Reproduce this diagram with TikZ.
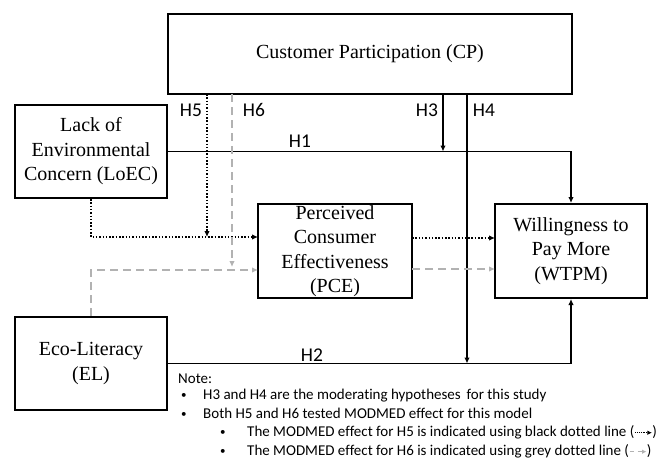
\documentclass[tikz,border=0pt]{standalone}
\usepackage{fontspec}
\setmainfont{Liberation Serif}
\newfontfamily\notefont[Ligatures=NoCommon]{Carlito}
\usetikzlibrary{arrows.meta}
\begin{document}
\begin{tikzpicture}[x=1pt,y=-1pt,
 box/.style={draw, line width=2pt, inner sep=0pt, align=center, font=\fontsize{20}{24.5}\selectfont},
 conn/.style={line width=1.6pt, -{Latex[length=6pt,width=5.5pt]}},
 dotconn/.style={conn, dash pattern=on 1.5pt off 1.8pt},
 greyconn/.style={conn, draw=gray!60, dash pattern=on 8pt off 5pt},
 hlabel/.style={inner sep=0pt, font=\notefont\fontsize{19.5}{22}\selectfont},
 note/.style={anchor=base west, inner sep=0pt, font=\notefont\fontsize{15}{17}\selectfont},
 bul/.style={anchor=base west, inner sep=0pt, font=\notefont\fontsize{11}{13}\selectfont}]
\useasboundingbox (0,0) rectangle (671,458);
% boxes
\node[box, minimum width=404pt, minimum height=80pt] (cp) at (370,54) {Customer Participation (CP)};
\node[box, minimum width=152pt, minimum height=93pt] (loec) at (91,151.5) {Lack of\\Environmental\\Concern (LoEC)};
\node[box, minimum width=154pt, minimum height=94pt] (pce) at (335,251) {Perceived\\Consumer\\Effectiveness\\(PCE)};
\node[box, minimum width=152pt, minimum height=94pt] (wtpm) at (571,251) {Willingness to\\Pay More\\(WTPM)};
\node[box, minimum width=152pt, minimum height=93pt] (el) at (91,363.5) {Eco-Literacy\\(EL)};
% coordinates
\coordinate (h3t) at (443,94);
\coordinate (h3b) at (443,151.5);
\coordinate (h4t) at (467,94);
\coordinate (h4b) at (467,363.5);
\coordinate (h5t) at (207,94);
\coordinate (h5b) at (207,237);
\coordinate (h6t) at (232,94);
\coordinate (h6b) at (232,267);
\coordinate (pceD) at (258,237);
\coordinate (pceG) at (258,270);
\coordinate (pceDo) at (412,238);
\coordinate (wtpmD) at (495,238);
\coordinate (pceGo) at (412,269);
\coordinate (wtpmG) at (495,269);
% connectors
\draw[conn] (loec.east) -| (wtpm.north);
\draw[conn] (el.east) -| (wtpm.south);
\draw[conn] (h3t) -- (h3b);
\draw[conn] (h4t) -- (h4b);
\draw[dotconn] (loec.south) |- (pceD);
\draw[dotconn] (h5t) -- (h5b);
\draw[dotconn] (pceDo) -- (wtpmD);
\draw[greyconn] (el.north) |- (pceG);
\draw[greyconn] (h6t) -- (h6b);
\draw[greyconn] (pceGo) -- (wtpmG);
% labels
\node[hlabel] (l5) at (191,110) {H5};
\node[hlabel] (l6) at (254,110) {H6};
\node[hlabel] (l3) at (427,110) {H3};
\node[hlabel] (l4) at (484,110) {H4};
\node[hlabel] (l1) at (300,141) {H1};
\node[hlabel] (l2) at (312,355) {H2};
% note
\node[note] (n0) at (178,383) {Note:};
\node[bul] (b1) at (181,398.5) {•};
\node[note] (t1) at (203,399.5) {H3 and H4 are the moderating hypotheses\, for this study};
\node[bul] (b2) at (181,417.5) {•};
\node[note] (t2) at (203,418.5) {Both H5 and H6 tested MODMED effect for this model};
\node[bul] (b3) at (220,435.5) {•};
\node[note] (t3) at (247,436.5) {The MODMED effect for H5 is indicated using black dotted line (\tikz[baseline=-3.8pt]{\draw[line width=0.9pt, dash pattern=on 0.9pt off 1pt, -{Latex[length=4.5pt,width=4.5pt]}] (0pt,0pt) -- (17pt,0pt);})};
\node[bul] (b4) at (220,454.5) {•};
\node[note] (t4) at (247,455.5) {The MODMED effect for H6 is indicated using grey dotted line (\tikz[baseline=-3.8pt]{\draw[line width=0.9pt, draw=gray!60, dash pattern=on 4pt off 4pt, -{Latex[length=4.5pt,width=4.5pt]}] (0pt,0pt) -- (17pt,0pt);})};
\end{tikzpicture}
\end{document}
